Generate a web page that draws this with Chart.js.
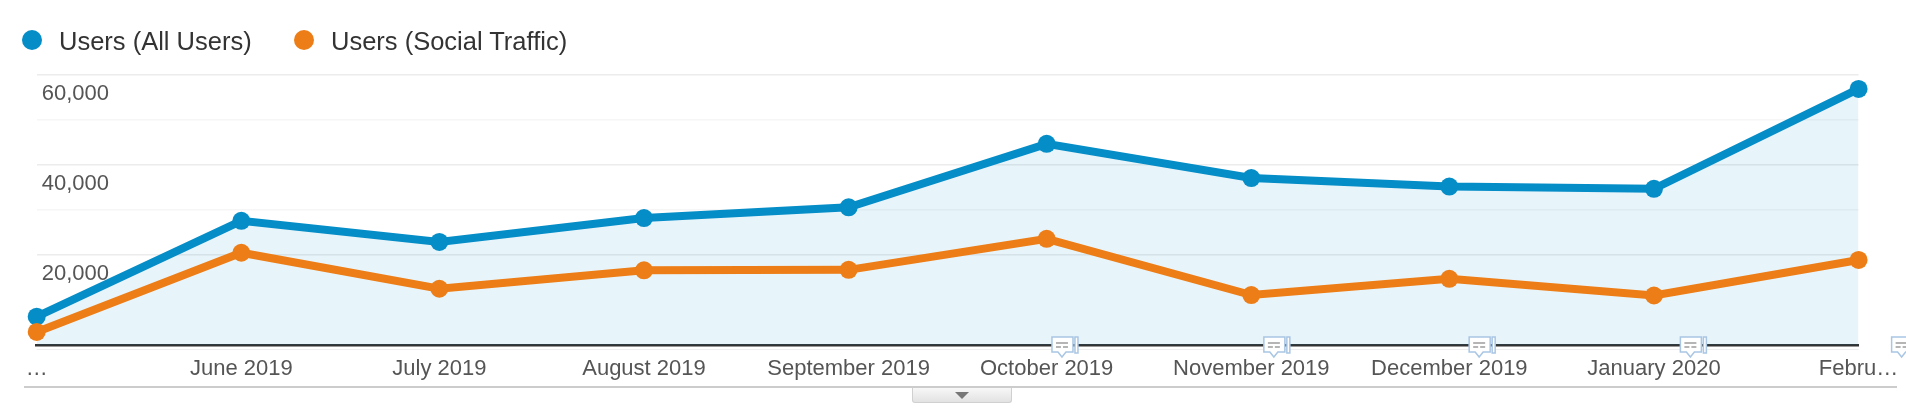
<!DOCTYPE html>
<html>
<head>
<meta charset="utf-8">
<title>Users</title>
<script src="https://cdn.jsdelivr.net/npm/chart.js@4"></script>
<style>
body{margin:0;background:#fff;font-family:"Liberation Sans",Arial,sans-serif;}
#wrap{position:relative;width:1906px;height:408px;overflow:hidden;}
#myChart{position:absolute;left:0;top:0;}
.legendItem{position:absolute;top:26px;height:30px;line-height:30px;font-size:25.5px;color:#333;white-space:nowrap;}
.legendItem i{position:absolute;left:-37px;top:4px;width:20px;height:20px;border-radius:50%;}
#bottomLine{position:absolute;left:24px;top:386px;width:1873px;height:2px;background:#ccc;}
#toggle{position:absolute;left:912px;top:388px;width:98px;height:14px;background:linear-gradient(#f7f7f7,#e2e2e2);border:1px solid #d0d0d0;border-top:0;border-radius:0 0 3px 3px;}
#toggle:after{content:"";position:absolute;left:42px;top:4px;border-left:7px solid transparent;border-right:7px solid transparent;border-top:7px solid #777;}
</style>
</head>
<body>
<div id="wrap">
  <canvas id="myChart" width="1906" height="408"></canvas>
  <div id="legend"></div>
  <div id="bottomLine"></div>
  <div id="toggle"></div>
</div>
<script>
'use strict';
// days since 1 May 2019, months are not equally wide on this axis
var dayOffsets=[0,31,61,92,123,153,184,214,245,276];
var monthLabels=['…','June 2019','July 2019','August 2019','September 2019','October 2019','November 2019','December 2019','January 2020','Febru…'];
var allUsers=[6300,27600,22900,28200,30600,44700,37100,35200,34700,56900];
var socialTraffic=[2900,20500,12500,16600,16700,23600,11100,14700,11000,18900];
var noteDays=[153.5,185.6,216.7,248.7,280.7];
var seriesNames=['Users (All Users)','Users (Social Traffic)'];
var legendLefts=[59,331];

var BLUE='#058dc7';
var ORANGE='#ed7e17';

function toPoints(values){
    return values.map(function(v,i){ return {x:dayOffsets[i],y:v}; });
}

// little comment bubbles sitting on the axis + faint line below it
var axisExtras={
    id:'axisExtras',
    afterDraw:function(chart){
        var ctx=chart.ctx;
        var xs=chart.scales.x;
        var base=chart.chartArea.bottom;
        ctx.save();
        ctx.fillStyle='#eeeeee';
        ctx.fillRect(chart.chartArea.left,base+4,chart.chartArea.width,1);
        noteDays.forEach(function(day){
            var x=xs.getPixelForValue(day);
            var top=base-8;
            ctx.fillStyle='#fff';
            ctx.strokeStyle='#a9c6e4';
            ctx.lineWidth=1.5;
            ctx.fillRect(x+25,top,3,16);
            ctx.strokeRect(x+25,top,3,16);
            ctx.beginPath();
            ctx.moveTo(x+2,top);
            ctx.lineTo(x+23,top);
            ctx.lineTo(x+23,top+15);
            ctx.lineTo(x+16,top+15);
            ctx.lineTo(x+12,top+20);
            ctx.lineTo(x+8,top+15);
            ctx.lineTo(x+2,top+15);
            ctx.closePath();
            ctx.fill();
            ctx.stroke();
            ctx.fillStyle='#b5b5b5';
            ctx.fillRect(x+6,top+5,12,2);
            ctx.fillRect(x+6,top+9,5,2);
            ctx.fillRect(x+13,top+9,5,2);
        });
        ctx.restore();
    }
};

Chart.defaults.font.family='"Liberation Sans", Arial, sans-serif';

var ctx=document.getElementById('myChart').getContext('2d');
var chart=new Chart(ctx,{
    type:'line',
    data:{
        datasets:[{
            label:seriesNames[0],
            data:toPoints(allUsers),
            borderColor:BLUE,
            backgroundColor:'rgba(5,141,199,0.095)',
            pointBackgroundColor:BLUE,
            fill:'origin',
            order:2
        },{
            label:seriesNames[1],
            data:toPoints(socialTraffic),
            borderColor:ORANGE,
            pointBackgroundColor:ORANGE,
            fill:false,
            order:1
        }]
    },
    options:{
        responsive:false,
        animation:false,
        layout:{padding:{top:75,right:47.4,left:0,bottom:0}},
        elements:{
            line:{borderWidth:8,tension:0},
            point:{radius:9,borderWidth:0}
        },
        datasets:{line:{clip:false}},
        plugins:{legend:{display:false},tooltip:{enabled:false}},
        scales:{
            x:{
                type:'linear',
                min:dayOffsets[0],
                max:dayOffsets[dayOffsets.length-1],
                afterFit:function(scale){ scale.height=63; },
                afterBuildTicks:function(scale){
                    scale.ticks=dayOffsets.map(function(d){ return {value:d}; });
                },
                grid:{display:false},
                border:{display:true,color:'#333',width:2.5},
                ticks:{
                    autoSkip:false,
                    maxRotation:0,
                    padding:3,
                    color:'#555',
                    font:{size:22},
                    callback:function(value,index){ return monthLabels[index]; }
                }
            },
            y:{
                min:0,
                max:60000,
                afterFit:function(scale){ scale.width=36.7; },
                border:{display:false},
                grid:{
                    drawTicks:false,
                    color:function(c){
                        if(c.tick.value===0||c.tick.value===10000){ return 'rgba(0,0,0,0)'; }
                        return c.tick.value%20000===0?'#ececec':'#f6f6f6';
                    },
                    lineWidth:1.5
                },
                ticks:{
                    stepSize:10000,
                    mirror:true,
                    padding:5,
                    labelOffset:19,
                    color:'#555',
                    font:{size:22},
                    callback:function(value){
                        if(value===0||value%20000!==0){ return ''; }
                        return value.toLocaleString('en-US');
                    }
                }
            }
        }
    },
    plugins:[axisExtras]
});

// html legend
var legendDiv=document.getElementById('legend');
chart.data.datasets.forEach(function(ds,i){
    var item=document.createElement('div');
    item.className='legendItem';
    item.style.left=legendLefts[i]+'px';
    item.textContent=ds.label;
    var dot=document.createElement('i');
    dot.style.background=ds.borderColor;
    item.appendChild(dot);
    legendDiv.appendChild(item);
});
</script>
</body>
</html>
